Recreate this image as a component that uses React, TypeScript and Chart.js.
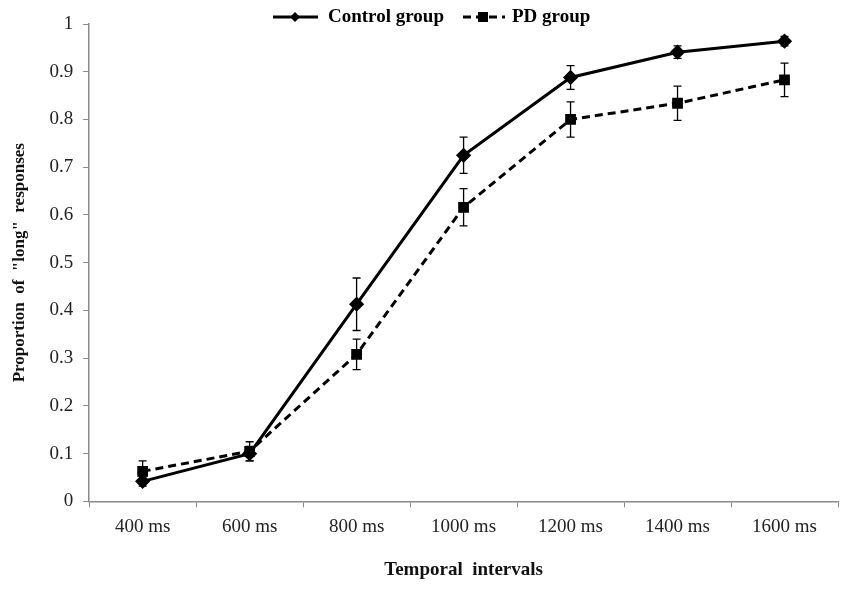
import React, { useEffect, useRef } from "react";
import { Chart, registerables } from "chart.js";

Chart.register(...registerables);

const intervals = ["400 ms", "600 ms", "800 ms", "1000 ms", "1200 ms", "1400 ms", "1600 ms"];
const controlMeans = [0.042, 0.1, 0.413, 0.725, 0.888, 0.941, 0.964];
const controlErr = [0.01, 0.015, 0.055, 0.038, 0.025, 0.013, 0.01];
const pdMeans = [0.063, 0.105, 0.308, 0.616, 0.8, 0.834, 0.883];
const pdErr = [0.022, 0.02, 0.032, 0.039, 0.037, 0.036, 0.035];

const SERIF = "'Liberation Serif', 'Times New Roman', serif";

// draws the error bars from the data through the scales
const errorBars = {
    id: "errorBars",
    afterDatasetsDraw(chart: any) {
        const ctx = chart.ctx;
        const y = chart.scales.y;
        const errs = [controlErr, pdErr];
        ctx.save();
        ctx.strokeStyle = "#000";
        ctx.lineWidth = 1.3;
        chart.data.datasets.forEach((ds: any, i: number) => {
            const meta = chart.getDatasetMeta(i);
            meta.data.forEach((pt: any, j: number) => {
                const v = ds.data[j];
                const top = y.getPixelForValue(v + errs[i][j]);
                const bot = y.getPixelForValue(v - errs[i][j]);
                ctx.beginPath();
                ctx.moveTo(pt.x, top);
                ctx.lineTo(pt.x, bot);
                ctx.moveTo(pt.x - 4, top);
                ctx.lineTo(pt.x + 4, top);
                ctx.moveTo(pt.x - 4, bot);
                ctx.lineTo(pt.x + 4, bot);
                ctx.stroke();
            });
        });
        ctx.restore();
    },
};

// legend with line + marker, like the original
const lineLegend = {
    id: "lineLegend",
    afterDraw(chart: any) {
        const ctx = chart.ctx;
        ctx.save();
        ctx.font = "bold 19px " + SERIF;
        ctx.textBaseline = "middle";
        ctx.fillStyle = "#000";
        ctx.strokeStyle = "#000";
        const yy = 17;
        // control group
        let x = 273;
        ctx.lineWidth = 3;
        ctx.setLineDash([]);
        ctx.beginPath();
        ctx.moveTo(x, yy);
        ctx.lineTo(x + 45, yy);
        ctx.stroke();
        ctx.beginPath();
        ctx.moveTo(x + 22, yy - 5);
        ctx.lineTo(x + 27, yy);
        ctx.lineTo(x + 22, yy + 5);
        ctx.lineTo(x + 17, yy);
        ctx.closePath();
        ctx.fill();
        ctx.fillText(chart.data.datasets[0].label, x + 55, yy);
        // pd group
        x = 463;
        ctx.setLineDash([8, 5]);
        ctx.beginPath();
        ctx.moveTo(x, yy);
        ctx.lineTo(x + 42, yy);
        ctx.stroke();
        ctx.setLineDash([]);
        ctx.fillRect(x + 15, yy - 5, 10, 10);
        ctx.fillText(chart.data.datasets[1].label, x + 49, yy);
        ctx.restore();
    },
};

const App: React.FC = () => {
    const chartRef = useRef<HTMLCanvasElement | null>(null);
    const chartInstance = useRef<Chart | null>(null);

    useEffect(() => {
        document.body.style.margin = "0";
        if (chartRef.current) {
            const ctx = chartRef.current.getContext("2d");
            if (ctx) {
                if (chartInstance.current) {
                    chartInstance.current.destroy();
                }
                chartInstance.current = new Chart(ctx, {
                    type: "line",
                    data: {
                        labels: intervals,
                        datasets: [
                            {
                                label: "Control group",
                                data: controlMeans,
                                borderColor: "#000",
                                backgroundColor: "#000",
                                borderWidth: 3,
                                pointStyle: "rectRot",
                                pointRadius: 5.5,
                                tension: 0,
                            },
                            {
                                label: "PD group",
                                data: pdMeans,
                                borderColor: "#000",
                                backgroundColor: "#000",
                                borderWidth: 3,
                                borderDash: [8, 5],
                                pointStyle: "rect",
                                pointRadius: 5.5,
                                tension: 0,
                            },
                        ],
                    },
                    options: {
                        animation: false,
                        responsive: true,
                        maintainAspectRatio: false,
                        layout: { padding: { top: 24, right: 12, left: 3, bottom: 8 } },
                        plugins: {
                            legend: { display: false },
                            tooltip: { enabled: false },
                        },
                        scales: {
                            x: {
                                offset: true,
                                grid: {
                                    offset: true,
                                    drawOnChartArea: false,
                                    drawTicks: true,
                                    tickLength: 6,
                                    color: "#8a8a8a",
                                },
                                border: { color: "#8a8a8a", width: 1.5 },
                                ticks: {
                                    color: "#222",
                                    font: { family: SERIF, size: 19 },
                                    padding: 8,
                                },
                                title: {
                                    display: true,
                                    text: "Temporal  intervals",
                                    color: "#111",
                                    font: { family: SERIF, size: 19, weight: "bold" },
                                    padding: { top: 12, bottom: 0 },
                                },
                            },
                            y: {
                                min: 0,
                                max: 1,
                                ticks: {
                                    stepSize: 0.1,
                                    color: "#222",
                                    font: { family: SERIF, size: 19 },
                                    padding: 10,
                                    callback: (v: any) => String(parseFloat(Number(v).toFixed(1))),
                                },
                                grid: {
                                    drawOnChartArea: false,
                                    drawTicks: true,
                                    tickLength: 6,
                                    color: "#8a8a8a",
                                },
                                border: { color: "#8a8a8a", width: 1.5 },
                                title: {
                                    display: true,
                                    text: "Proportion  of  \"long\"  responses",
                                    color: "#111",
                                    font: { family: SERIF, size: 17, weight: "bold" },
                                    padding: { top: 6, bottom: 10 },
                                },
                            },
                        },
                    },
                    plugins: [errorBars, lineLegend],
                });
            }
        }
        return () => {
            if (chartInstance.current) {
                chartInstance.current.destroy();
                chartInstance.current = null;
            }
        };
    }, []);

    return (
        <div style={{ width: 850, height: 589, position: "relative", background: "#fff" }}>
            <canvas ref={chartRef} />
        </div>
    );
};

export default App;
